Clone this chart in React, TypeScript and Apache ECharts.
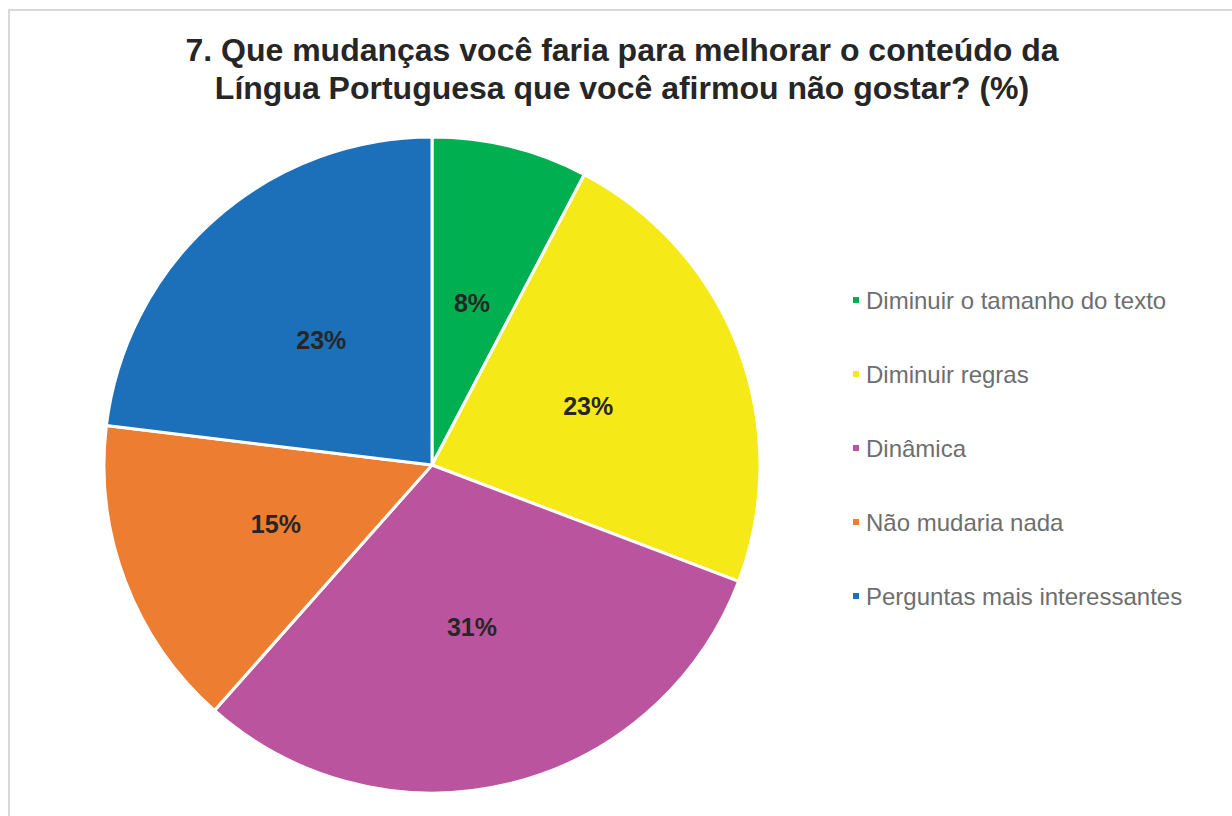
import React, { useEffect, useRef } from "react";
import * as echarts from "echarts";

const categories = [
  "Diminuir o tamanho do texto",
  "Diminuir regras",
  "Dinâmica",
  "Não mudaria nada",
  "Perguntas mais interessantes",
];
const values = [7.69, 23.08, 30.77, 15.38, 23.08];
const colors = ["#00b050", "#f5e917", "#bb549e", "#ed7d31", "#1b70b9"];
const titleLines = [
  "7. Que mudanças você faria para melhorar o conteúdo da",
  "Língua Portuguesa que você afirmou não gostar? (%)",
];

export default function App() {
  const ref = useRef<HTMLDivElement>(null);
  useEffect(() => {
    if (!ref.current) return;
    const chart = echarts.init(ref.current, undefined, { renderer: "svg" });
    chart.setOption({
      animation: false,
      backgroundColor: "#ffffff",
      textStyle: { fontFamily: "Liberation Sans, Arial, sans-serif" },
      title: {
        text: titleLines.join("\n"),
        left: 617,
        top: 26,
        textAlign: "center",
        textStyle: {
          fontSize: 32,
          fontWeight: "bold",
          color: "#262626",
          lineHeight: 38,
          fontFamily: "Liberation Sans, Arial, sans-serif",
        },
      },
      graphic: [
        {
          type: "rect",
          shape: { x: 9, y: 10, width: 1400, height: 1000 },
          style: { fill: "none", stroke: "#d9d9d9", lineWidth: 2 },
          silent: true,
        },
      ],
      legend: {
        orient: "vertical",
        left: 846,
        top: 283,
        itemWidth: 8,
        itemHeight: 8,
        itemGap: 50,
        icon: "rect",
        textStyle: {
          fontSize: 24,
          lineHeight: 24,
          color: "#6e6e6e",
          padding: [0, 0, 0, 1],
        },
        data: categories,
      },
      series: [
        {
          type: "pie",
          center: [432, 465],
          radius: 328,
          startAngle: 90,
          clockwise: true,
          label: {
            show: true,
            position: "inside",
            formatter: (p: any) => Math.round(p.value) + "%",
            fontSize: 25,
            fontWeight: "bold",
            color: "#262626",
          },
          labelLine: { show: false },
          itemStyle: { borderColor: "#ffffff", borderWidth: 3 },
          emphasis: { disabled: true },
          data: categories.map((name, i) => ({
            name,
            value: values[i],
            itemStyle: { color: colors[i] },
          })),
        },
      ],
    });
    return () => chart.dispose();
  }, []);
  return (
    <div
      ref={ref}
      style={{ position: "fixed", left: 0, top: 0, width: 1232, height: 816 }}
    />
  );
}
